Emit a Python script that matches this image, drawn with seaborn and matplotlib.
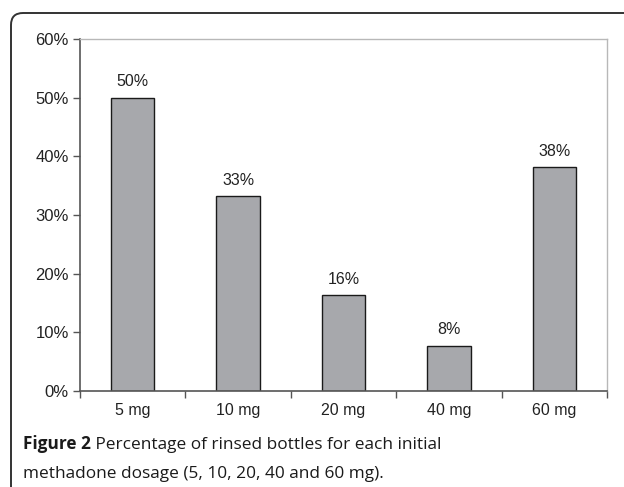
import matplotlib
matplotlib.use("Agg")
import matplotlib.pyplot as plt
import seaborn as sns
import pandas as pd
from matplotlib.patches import FancyBboxPatch
from matplotlib.ticker import FixedLocator, PercentFormatter

# --- data ---
dosages = ["5 mg", "10 mg", "20 mg", "40 mg", "60 mg"]
rinsed_pct = [50.0, 33.2, 16.3, 7.7, 38.2]
bar_labels = ["50%", "33%", "16%", "8%", "38%"]
y_ticks = [0, 10, 20, 30, 40, 50, 60]

df = pd.DataFrame({"dose": dosages, "pct": rinsed_pct})

sns.set_style("white")
plt.rcParams["font.family"] = ["Liberation Sans", "DejaVu Sans"]

fig = plt.figure(figsize=(6.24, 4.87), dpi=100)
ax = fig.add_axes([80 / 624, 1 - 391 / 487, 527 / 624, 352 / 487])

sns.barplot(data=df, x="dose", y="pct", color="#a7a8ac", saturation=1,
            width=0.41, edgecolor="#1a1a1a", linewidth=1.0, ax=ax)

ax.bar_label(ax.containers[0], labels=bar_labels, padding=6,
             fontsize=11.5, color="#222222")

ax.set_ylim(0, 60)
ax.set_xlim(-0.5, len(dosages) - 0.5)
ax.set_yticks(y_ticks)
ax.yaxis.set_major_formatter(PercentFormatter(decimals=0))
ax.set_xlabel("")
ax.set_ylabel("")

# x ticks at category boundaries, labels at centres
ax.xaxis.set_minor_locator(FixedLocator([i - 0.5 for i in range(len(dosages) + 1)]))
ax.tick_params(axis="x", which="major", length=0, pad=9, labelsize=11.5, colors="#222222")
ax.tick_params(axis="x", which="minor", length=5, width=1, color="#555555", direction="out")
ax.tick_params(axis="y", which="major", length=5, width=1, color="#555555",
               direction="out", labelsize=12, labelcolor="#222222", pad=3)
ax.tick_params(axis="y", left=True)
ax.tick_params(axis="x", which="minor", bottom=True)

for side in ["left", "bottom"]:
    ax.spines[side].set_color("#555555")
    ax.spines[side].set_linewidth(1.2)
for side in ["top", "right"]:
    ax.spines[side].set_color("#b8b8b8")
    ax.spines[side].set_linewidth(1.0)

# rounded frame around the figure (open at right and bottom)
frame = FancyBboxPatch((0.11, -0.5), 7.0, 4.74 + 0.5,
                       boxstyle="round,pad=0,rounding_size=0.12",
                       transform=fig.dpi_scale_trans, facecolor="none",
                       edgecolor="#333333", linewidth=1.4, clip_on=False)
fig.patches.append(frame)

# caption
cap_font = ["Open Sans", "DejaVu Sans"]
x0 = 23 / 624
t1 = fig.text(x0, 1 - 449 / 487, "Figure 2", fontsize=12.4, fontweight="bold",
              family=cap_font, color="#1a1a1a")
fig.canvas.draw()
bb = t1.get_window_extent(renderer=fig.canvas.get_renderer())
fig.text(bb.x1 / fig.bbox.width, 1 - 449 / 487,
         " Percentage of rinsed bottles for each initial",
         fontsize=12.4, family=cap_font, color="#1a1a1a")
fig.text(x0, 1 - 478 / 487, "methadone dosage (5, 10, 20, 40 and 60 mg).",
         fontsize=12.4, family=cap_font, color="#1a1a1a")

fig.savefig("out.png", dpi=100)
